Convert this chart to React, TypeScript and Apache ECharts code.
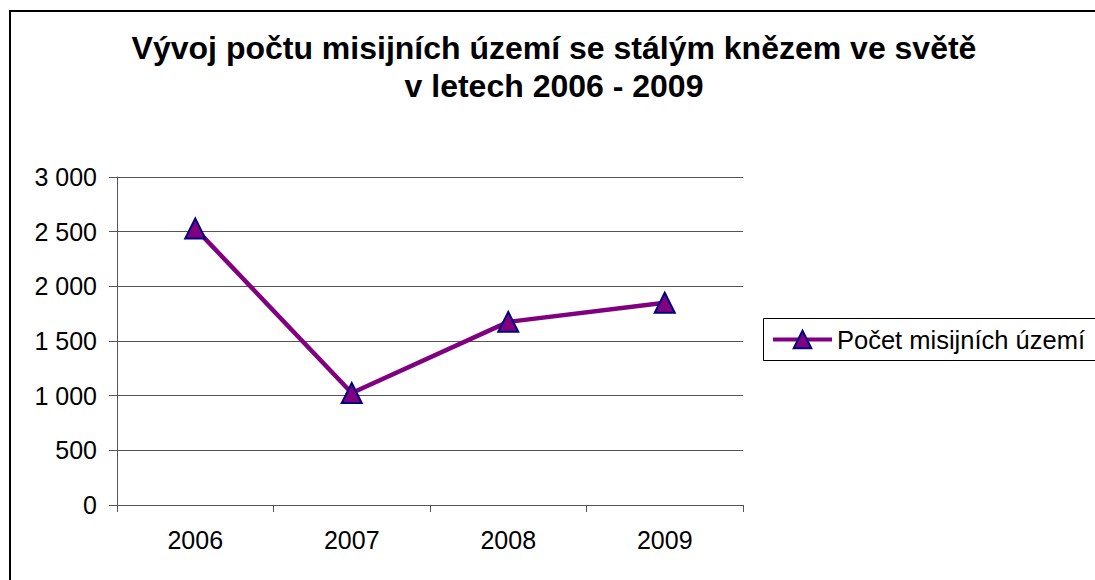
import React, { useEffect, useRef } from "react";
import * as echarts from "echarts";

const titleLines = ["Vývoj počtu misijních území se stálým knězem ve světě", "v letech 2006 - 2009"];
const categories = ["2006", "2007", "2008", "2009"];
const seriesName = "Počet misijních území";
const values = [2530, 1025, 1675, 1850];
const yMin = 0;
const yMax = 3000;
const yInterval = 500;

const FONT = "Arial, 'Liberation Sans', sans-serif";

function fmt(v: number): string {
  return String(v).replace(/\B(?=(\d{3})+(?!\d))/g, " ");
}

export default function App() {
  const ref = useRef<HTMLDivElement>(null);
  useEffect(() => {
    if (!ref.current) return;
    const chart = echarts.init(ref.current, null, { renderer: "svg" });
    chart.setOption({
      animation: false,
      backgroundColor: "#ffffff",
      title: {
        text: titleLines.join("\n"),
        left: 549,
        top: 24,
        textAlign: "center",
        textStyle: {
          fontFamily: FONT,
          fontSize: 32,
          fontWeight: "bold",
          color: "#000",
          lineHeight: 38,
        },
      },
      graphic: [
        {
          type: "rect",
          shape: { x: 10, y: 11, width: 1300, height: 800 },
          style: { fill: "none", stroke: "#000", lineWidth: 2 },
          silent: true,
        },
        {
          type: "rect",
          shape: { x: 763.5, y: 318.5, width: 500, height: 42 },
          style: { fill: "none", stroke: "#000", lineWidth: 1 },
          silent: true,
        },
      ],
      legend: {
        left: 763,
        top: 318,
        orient: "vertical",
        padding: [8, 8, 8, 8],
        borderWidth: 0,
        itemWidth: 59,
        itemHeight: 22,
        itemGap: 0,
        lineStyle: { width: 4 },
        textStyle: { fontFamily: FONT, fontSize: 25.5, color: "#000", lineHeight: 27 },
        data: [seriesName],
      },
      grid: { left: 117, right: 352, top: 177, bottom: 75, containLabel: false },
      xAxis: {
        type: "category",
        data: categories,
        boundaryGap: true,
        axisLine: { show: true, lineStyle: { color: "#555", width: 1 } },
        axisTick: { show: true, length: 7, alignWithLabel: false, lineStyle: { color: "#555" } },
        axisLabel: { fontFamily: FONT, fontSize: 25, color: "#000", margin: 22 },
        splitLine: { show: false },
      },
      yAxis: {
        type: "value",
        min: yMin,
        max: yMax,
        interval: yInterval,
        axisLine: { show: true, lineStyle: { color: "#555", width: 1 } },
        axisTick: { show: true, length: 8, inside: false, lineStyle: { color: "#555" } },
        axisLabel: {
          fontFamily: FONT,
          fontSize: 25,
          color: "#000",
          margin: 20,
          formatter: (v: number) => fmt(v),
        },
        splitLine: { show: true, lineStyle: { color: "#555", width: 1 } },
      },
      series: [
        {
          name: seriesName,
          type: "line",
          data: values,
          symbol: "triangle",
          symbolSize: 20,
          lineStyle: { color: "#800080", width: 4.5 },
          itemStyle: { color: "#800080", borderColor: "#000080", borderWidth: 2 },
          z: 3,
        },
      ],
    });
    return () => chart.dispose();
  }, []);
  return (
    <div
      ref={ref}
      style={{ position: "absolute", left: 0, top: 0, width: 1095, height: 580 }}
    />
  );
}
